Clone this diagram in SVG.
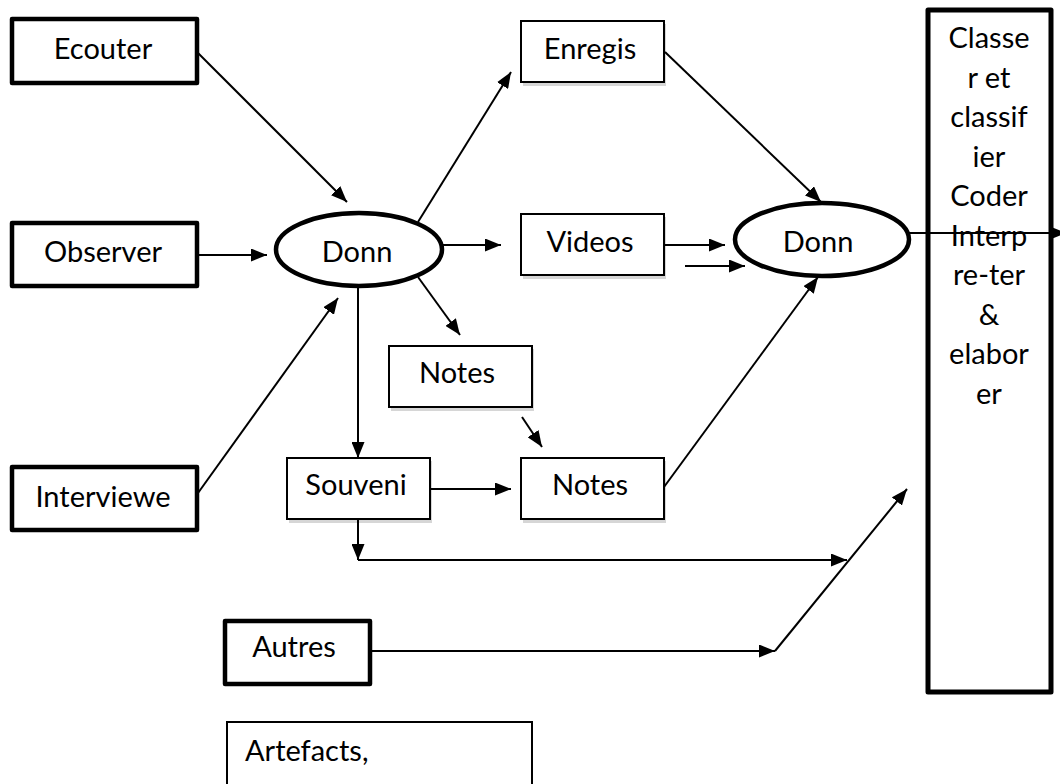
<svg xmlns="http://www.w3.org/2000/svg" width="1060" height="784" viewBox="0 0 1060 784">
<defs>
<marker id="ah" markerUnits="userSpaceOnUse" markerWidth="17" markerHeight="13" refX="16" refY="6.5" orient="auto">
<path d="M0,0 L16,6.5 L0,13 z" fill="#000"/>
</marker>
<style>
.thick{fill:#fff;stroke:#000;stroke-width:4.5;stroke-linejoin:round}
.thin{fill:#fff;stroke:#000;stroke-width:2}
.shadow{fill:#d6d6d6;stroke:none}
.ell{fill:#fff;stroke:#000;stroke-width:4.5}
.big{fill:#fff;stroke:#000;stroke-width:5;stroke-linejoin:round}
.t{font-family:Lato,"Liberation Sans",sans-serif;font-size:29px;fill:#000;text-anchor:middle}
.tl{font-family:Lato,"Liberation Sans",sans-serif;font-size:29px;fill:#000}
.a{fill:none;stroke:#000;stroke-width:2;marker-end:url(#ah)}
</style>
</defs>
<rect width="1060" height="784" fill="#fff"/>
<g id="big-box">
<rect class="big" x="928" y="10" width="123" height="682"/>
<text class="t" x="989" y="48">Classe</text>
<text class="t" x="989" y="87.5">r et</text>
<text class="t" x="989" y="127">classif</text>
<text class="t" x="989" y="166.5">ier</text>
<text class="t" x="989" y="206">Coder</text>
<text class="t" x="989" y="245.5">Interp</text>
<text class="t" x="989" y="285">re-ter</text>
<text class="t" x="989" y="324.5">&amp;</text>
<text class="t" x="989" y="364">elabor</text>
<text class="t" x="989" y="403.5">er</text>
</g>
<g id="ecouter"><rect class="thick" x="12" y="19" width="185" height="64"/><text class="t" x="103" y="59">Ecouter</text></g>
<g id="observer"><rect class="thick" x="12" y="223" width="185" height="63"/><text class="t" x="103" y="262">Observer</text></g>
<g id="interviewe"><rect class="thick" x="12" y="467" width="185" height="63"/><text class="t" x="103" y="507">Interviewe</text></g>
<g id="donn1"><ellipse class="ell" cx="359" cy="249.5" rx="83" ry="36.5"/><text class="t" x="357" y="262">Donn</text></g>
<g id="enregis"><rect class="shadow" x="523" y="24" width="143" height="62"/><rect class="thin" x="521" y="21" width="143" height="61"/><text class="t" x="590" y="59">Enregis</text></g>
<g id="videos"><rect class="shadow" x="523" y="217" width="143" height="62"/><rect class="thin" x="521" y="214" width="143" height="61"/><text class="t" x="590" y="252">Videos</text></g>
<g id="notes1"><rect class="shadow" x="391" y="349" width="143" height="62"/><rect class="thin" x="389" y="346" width="143" height="61"/><text class="t" x="457" y="383">Notes</text></g>
<g id="souveni"><rect class="shadow" x="289" y="461" width="143" height="62"/><rect class="thin" x="287" y="458" width="143" height="61"/><text class="t" x="356" y="495">Souveni</text></g>
<g id="notes2"><rect class="shadow" x="523" y="461" width="143" height="62"/><rect class="thin" x="521" y="458" width="143" height="61"/><text class="t" x="590" y="495">Notes</text></g>
<g id="donn2"><ellipse class="ell" cx="822" cy="239.5" rx="87" ry="36.5"/><text class="t" x="818" y="252">Donn</text></g>
<g id="autres"><rect class="thick" x="225" y="621" width="145" height="63"/><text class="t" x="294" y="657">Autres</text></g>
<g id="artefacts"><rect class="thin" x="227" y="722" width="305" height="80"/><text class="tl" x="245" y="761">Artefacts,</text></g>
<g id="connectors">
<line class="a" x1="198" y1="53" x2="347" y2="202"/>
<line class="a" x1="197" y1="255" x2="267" y2="255"/>
<line class="a" x1="198" y1="493" x2="338" y2="298"/>
<line class="a" x1="418" y1="222" x2="511" y2="72"/>
<line class="a" x1="442" y1="245" x2="501" y2="245"/>
<line class="a" x1="418" y1="277" x2="460" y2="335"/>
<line class="a" x1="358" y1="287" x2="358" y2="458"/>
<line class="a" x1="522" y1="417" x2="542" y2="447"/>
<line class="a" x1="430" y1="489" x2="511" y2="489"/>
<line class="a" x1="358" y1="519" x2="358" y2="560"/>
<line class="a" x1="358" y1="560" x2="847" y2="560"/>
<line class="a" x1="370" y1="651" x2="775" y2="651"/>
<line class="a" x1="775" y1="651" x2="907" y2="489"/>
<line class="a" x1="665" y1="52" x2="821" y2="202"/>
<line class="a" x1="664" y1="245" x2="725" y2="245"/>
<line class="a" x1="685" y1="266" x2="745" y2="266"/>
<line class="a" x1="664" y1="487" x2="818" y2="277"/>
<line class="a" x1="909" y1="233" x2="1066" y2="233"/>
</g>
</svg>
